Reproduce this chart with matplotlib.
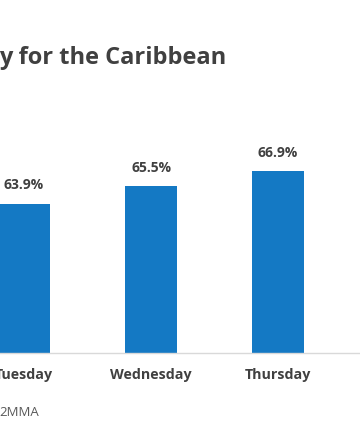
import matplotlib
matplotlib.use("Agg")
import matplotlib.pyplot as plt

days = ["Tuesday", "Wednesday", "Thursday"]
occupancy = [63.9, 65.5, 66.9]
value_labels = ["63.9%", "65.5%", "66.9%"]
title_text = "y for the Caribbean"
source_text = "2MMA"

plt.rcParams['font.family'] = ['Open Sans', 'DejaVu Sans']

W, H = 360, 445
fig = plt.figure(figsize=(W / 100, H / 100), dpi=100)
fig.patch.set_facecolor("white")

base_px = 353
k = 10.75  # px per percent
ymin, ymax = 50, 80
ax_h = (ymax - ymin) * k
ax = fig.add_axes([0, (H - base_px) / H, 1, ax_h / H])
ax.set_ylim(ymin, ymax)
x0 = 24
step = 127
ax.set_xlim(-x0 / step, (W - x0) / step)

xs = list(range(len(days)))
ax.bar(xs, occupancy, width=52 / step, color="#1479C4", zorder=2)

for x, v, lab in zip(xs, occupancy, value_labels):
    ax.annotate(lab, (x, v), xytext=(0, 8), textcoords="offset points",
                ha="center", va="bottom", fontsize=10, fontweight="bold",
                color="#404040")

for s in ["top", "right", "left"]:
    ax.spines[s].set_visible(False)
ax.spines["bottom"].set_color("#D9D9D9")
ax.spines["bottom"].set_linewidth(1.0)
ax.set_yticks([])
ax.set_xticks(xs)
ax.set_xticklabels(days, fontsize=10.3, fontweight="bold", color="#404040")
ax.tick_params(axis="x", length=0, pad=11)

fig.text(-0.003, 1 - 58 / H, title_text, ha="left", va="center",
         fontsize=17, fontweight="bold", color="#404040")
fig.text(-0.003, 1 - 413 / H, source_text, ha="left", va="center",
         fontsize=9.5, color="#595959")

fig.savefig("out.png", dpi=100, facecolor="white")
